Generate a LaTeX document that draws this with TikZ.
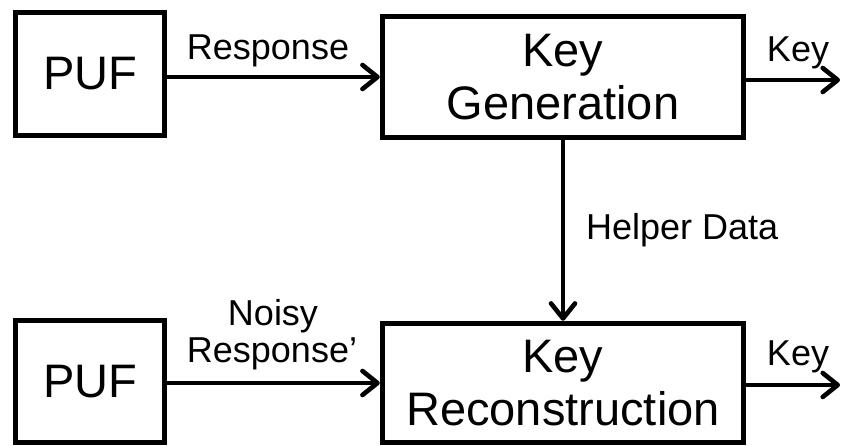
\documentclass[tikz,border=0pt]{standalone}
\usepackage{fontspec}
\setmainfont{Liberation Sans}
\usetikzlibrary{arrows.meta}
\tikzset{
  blk/.style={draw, line width=5.5pt, inner sep=0pt, align=center,
              font=\fontsize{47}{53}\selectfont},
  lbl/.style={inner sep=0pt, font=\fontsize{36}{40}\selectfont},
  conn/.style={line width=4.6pt, -{Straight Barb[length=15pt,width=24pt,round]}}
}
\begin{document}
\begin{tikzpicture}[x=1pt,y=-1pt]
\useasboundingbox (0,0) rectangle (842,446);
% blocks
\node[blk, minimum width=149pt, minimum height=123pt] (puf1) at (90,74) {PUF};
\node[blk, minimum width=361pt, minimum height=121pt] (kg) at (563,77) {Key\\Generation};
\node[blk, minimum width=149pt, minimum height=122pt] (puf2) at (90,381.5) {PUF};
\node[blk, minimum width=361pt, minimum height=119pt] (kr) at (563,383) {Key\\Reconstruction};
% free ends
\coordinate (k1) at (840,80);
\coordinate (k2) at (840,385);
% connectors
\draw[conn] (puf1.east |- kg.west) -- (kg.west);
\draw[conn] (kg.east |- k1) -- (k1);
\draw[conn] (kg.south) -- (kr.north);
\draw[conn] (puf2.east |- kr.west) -- (kr.west);
\draw[conn] (kr.east |- k2) -- (k2);
% labels
\node[lbl, anchor=base] (lresp) at (268,60) {Response};
\node[lbl, anchor=base] (lkey1) at (798,62) {Key};
\node[lbl, anchor=base west] (lhelp) at (586,240) {Helper Data};
\node[lbl, anchor=base] (lkey2) at (798,365) {Key};
\node[lbl, anchor=base] (lnoisy) at (273,325) {Noisy};
\node[lbl, anchor=base] (lresp2) at (272,362) {Response'};
\end{tikzpicture}
\end{document}
